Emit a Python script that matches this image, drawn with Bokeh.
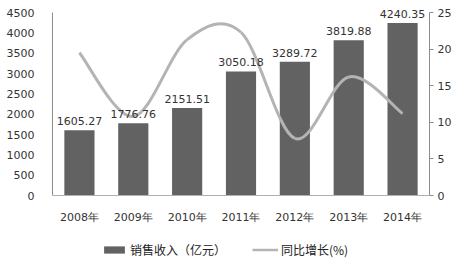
from bokeh.plotting import figure
from bokeh.models import (Range1d, LinearAxis, FixedTicker, ColumnDataSource,
                          LabelSet, Legend, LegendItem, Span)
from bokeh.core.properties import value
from bokeh.embed import file_html
from bokeh.resources import INLINE

years = ["2008年", "2009年", "2010年", "2011年", "2012年", "2013年", "2014年"]
revenue = [1605.27, 1776.76, 2151.51, 3050.18, 3289.72, 3819.88, 4240.35]
growth = [19.5, 10.8, 21.3, 22.3, 7.8, 16.2, 11.2]
left_ticks = [0, 500, 1000, 1500, 2000, 2500, 3000, 3500, 4000, 4500]
right_ticks = [0, 5, 10, 15, 20, 25]

FONT = "DejaVu Sans"
CJK = "Noto Sans CJK SC"
BAR = "#626262"
LINE = "#b4b4b4"
AX = "#8c8c8c"
TXT = "#333333"

xs = list(range(len(years)))

# frame covers the full canvas height; axis 0 sits at 195px, top tick at 12px
H = 260.0
ZERO_PX, TOP_PX = 195.0, 12.0
span_px = ZERO_PX - TOP_PX
def rng(top):
    per = top / span_px
    return Range1d(-(H - ZERO_PX) * per, top + TOP_PX * per)

p = figure(width=464, height=260, output_backend="svg", toolbar_location=None,
           x_range=Range1d(-0.5, len(years) - 0.5),
           y_range=rng(left_ticks[-1]),
           min_border_left=52, min_border_right=35, min_border_top=0,
           min_border_bottom=0, outline_line_color=None, x_axis_location=None,
           y_axis_location=None)
p.extra_y_ranges = {"g": rng(right_ticks[-1])}
p.xgrid.visible = False
p.ygrid.visible = False

src = ColumnDataSource(dict(x=xs, rev=revenue, lab=["%.2f" % v for v in revenue],
                            zero=[0] * len(xs), yr=years))
bars = p.vbar(x="x", top="rev", width=0.56, source=src, fill_color=BAR,
              line_color=None)

# smoothed growth line (Catmull-Rom -> cubic Bezier, like a smoothed chart line)
n = len(growth)
x0, y0, x1, y1, cx0, cy0, cx1, cy1 = [], [], [], [], [], [], [], []
for i in range(n - 1):
    pm = max(i - 1, 0)
    pn = min(i + 2, n - 1)
    x0.append(xs[i]); y0.append(growth[i])
    x1.append(xs[i + 1]); y1.append(growth[i + 1])
    cx0.append(xs[i] + (xs[i + 1] - xs[pm]) / 6)
    cy0.append(growth[i] + (growth[i + 1] - growth[pm]) / 6)
    cx1.append(xs[i + 1] - (xs[pn] - xs[i]) / 6)
    cy1.append(growth[i + 1] - (growth[pn] - growth[i]) / 6)
p.bezier(x0=x0, y0=y0, x1=x1, y1=y1, cx0=cx0, cy0=cy0, cx1=cx1, cy1=cy1,
         line_color=LINE, line_width=3, y_range_name="g")
legline = p.line(x=[0], y=[-100], line_color=LINE, line_width=2.5, y_range_name="g")

labels = LabelSet(x="x", y="rev", text="lab", source=src, text_align="center",
                  text_baseline="bottom", y_offset=5, text_font=value(FONT),
                  text_font_size="11px", text_color=TXT)
p.add_layout(labels)

# category axis (baseline + labels)
p.add_layout(Span(location=0, dimension="width", line_color="#b0b0b0",
                  line_width=1))
cats = LabelSet(x="x", y="zero", text="yr", source=src, text_align="center",
                text_baseline="middle", y_offset=-22, text_font=value(FONT),
                text_font_size="11px", text_color=TXT)
p.add_layout(cats)

# value axes
ax_l = LinearAxis(ticker=FixedTicker(ticks=left_ticks),
                  bounds=(left_ticks[0], left_ticks[-1]))
ax_l.axis_line_color = AX
ax_l.major_tick_line_color = None
ax_l.minor_tick_line_color = None
ax_l.major_label_standoff = 12
ax_l.major_label_text_font = FONT
ax_l.major_label_text_font_size = "11px"
ax_l.major_label_text_color = TXT
p.add_layout(ax_l, "left")

ax_r = LinearAxis(y_range_name="g", ticker=FixedTicker(ticks=right_ticks),
                  bounds=(right_ticks[0], right_ticks[-1]))
ax_r.axis_line_color = AX
ax_r.major_tick_line_color = AX
ax_r.major_tick_out = 4
ax_r.major_tick_in = 0
ax_r.minor_tick_line_color = None
ax_r.major_label_standoff = 4
ax_r.major_label_text_font = FONT
ax_r.major_label_text_font_size = "11px"
ax_r.major_label_text_color = TXT
p.add_layout(ax_r, "right")

legend = Legend(items=[LegendItem(label="销售收入（亿元）", renderers=[bars]),
                       LegendItem(label="同比增长(%)", renderers=[legline])],
                orientation="horizontal", location=(49, 2),
                glyph_width=26, glyph_height=9, label_standoff=3, spacing=26,
                padding=0, margin=0, border_line_color=None,
                background_fill_alpha=0, label_text_font=CJK,
                label_text_font_size="12px", label_text_color="#222222",
                label_height=16)
p.add_layout(legend, "center")

open("out.html", "w").write(file_html(p, INLINE))
